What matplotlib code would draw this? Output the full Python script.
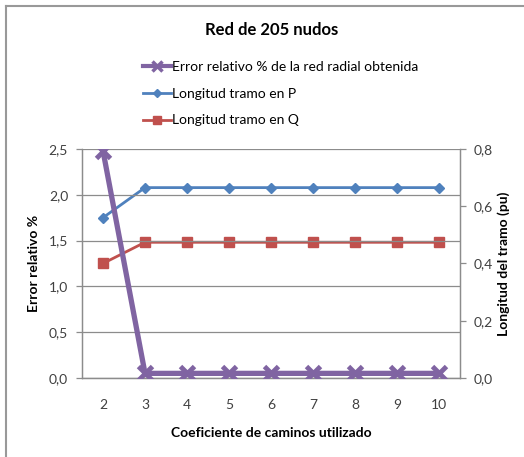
import matplotlib.pyplot as plt
from matplotlib.lines import Line2D

plt.rcParams['font.family'] = ['Lato', 'DejaVu Sans']

# Data
coef = [2, 3, 4, 5, 6, 7, 8, 9, 10]
error_pct = [2.48, 0.05, 0.05, 0.05, 0.05, 0.05, 0.05, 0.05, 0.05]
long_p = [0.56, 0.665, 0.665, 0.665, 0.665, 0.665, 0.665, 0.665, 0.665]
long_q = [0.40, 0.474, 0.474, 0.474, 0.474, 0.474, 0.474, 0.474, 0.474]
y_ticks = [0.0, 0.5, 1.0, 1.5, 2.0, 2.5]
y2_ticks = [0.0, 0.2, 0.4, 0.6, 0.8]

purple = '#8064A2'
blue = '#4F81BD'
red = '#C0504D'
grey = '#8C8C8C'

fig = plt.figure(figsize=(5.24, 4.57), dpi=100)
ax = fig.add_axes([0.1565, 0.173, 0.7214, 0.501])
ax2 = ax.twinx()

xs = list(range(len(coef)))

# Primary axis: error
ax.plot(xs, error_pct, color=purple, linewidth=3.8, marker='x',
        markersize=10, markeredgewidth=3.5, zorder=3)
ax.set_ylim(0, 2.5)
ax.set_yticks(y_ticks)
ax.set_yticklabels([f'{v:.1f}'.replace('.', ',') for v in y_ticks])
ax.set_xlim(-0.5, len(coef) - 0.5)
ax.set_xticks(xs)
ax.set_xticklabels([str(c) for c in coef])
ax.grid(axis='y', color=grey, linewidth=0.9)
ax.set_axisbelow(True)

# Secondary axis: lengths
ax2.plot(xs, long_p, color=blue, linewidth=2, marker='D', markersize=5.5)
ax2.plot(xs, long_q, color=red, linewidth=2, marker='s', markersize=7.5)
ax2.set_ylim(0, 0.8)
ax2.set_yticks(y2_ticks)
ax2.set_yticklabels([f'{v:.1f}'.replace('.', ',') for v in y2_ticks])

ax2.set_zorder(ax.get_zorder() - 1)
ax.patch.set_visible(False)

for a in (ax, ax2):
    a.spines['top'].set_visible(False)
    for s in ('left', 'right', 'bottom'):
        a.spines[s].set_color(grey)
        a.spines[s].set_linewidth(0.9)
    a.tick_params(colors='#404040', labelsize=10, length=4, width=0.9,
                  direction='out')
    a.tick_params(axis='y', colors=grey, labelcolor='#404040')
ax.tick_params(axis='x', length=0, pad=15)
ax.tick_params(axis='y', pad=6)
ax2.tick_params(axis='y', pad=6)

ax.set_xlabel('Coeficiente de caminos utilizado', fontsize=10,
              fontweight='bold', labelpad=12)
ax.set_ylabel('Error relativo %', fontsize=10, fontweight='bold', labelpad=6)
ax2.set_ylabel('Longitud del tramo (pu)', fontsize=10, fontweight='bold',
               labelpad=3)

fig.text(0.519, 0.935, 'Red de 205 nudos', fontsize=12, fontweight='bold',
         ha='center', va='center')

handles = [
    Line2D([], [], color=purple, linewidth=3, marker='x', markersize=7,
           markeredgewidth=2.5),
    Line2D([], [], color=blue, linewidth=2, marker='D', markersize=4.5),
    Line2D([], [], color=red, linewidth=2, marker='s', markersize=6),
]
labels = ['Error relativo % de la red radial obtenida',
          'Longitud tramo en P', 'Longitud tramo en Q']
fig.legend(handles, labels, loc='upper left', bbox_to_anchor=(0.273, 0.866),
           frameon=False, fontsize=10, handlelength=2.0, handletextpad=0.1,
           labelspacing=1.05, borderaxespad=0, borderpad=0)

# chart area border (top and left visible)
fig.add_artist(Line2D([0.012, 0.012], [0, 0.987], color='#999999',
                      linewidth=1.5, transform=fig.transFigure))
fig.add_artist(Line2D([0.012, 1.0], [0.987, 0.987], color='#999999',
                      linewidth=1.5, transform=fig.transFigure))

fig.savefig('out.png', dpi=100)
